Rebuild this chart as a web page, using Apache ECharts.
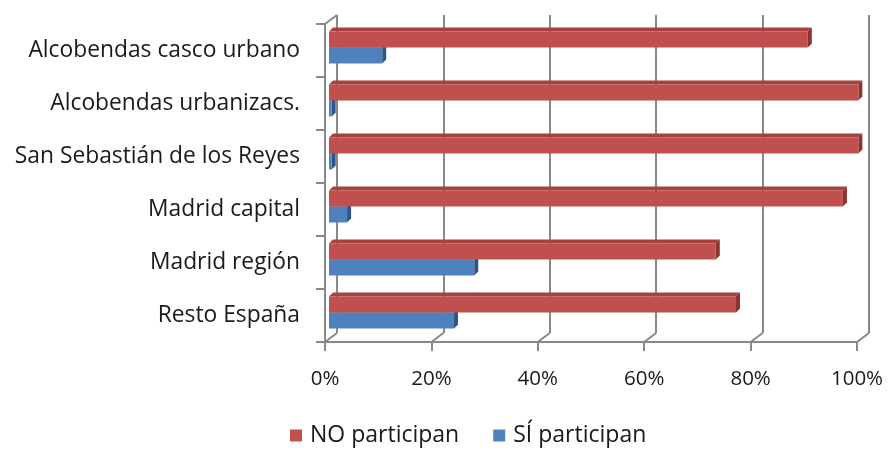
<!DOCTYPE html>
<html>
<head>
<meta charset="utf-8">
<script src="https://cdn.jsdelivr.net/npm/echarts@6/dist/echarts.min.js"></script>
<style>html,body{margin:0;padding:0;background:#fff}#c{width:890px;height:452px}</style>
</head>
<body>
<div id="c"></div>
<script>
const categories = ['Alcobendas casco urbano', 'Alcobendas urbanizacs.', 'San Sebastián de los Reyes', 'Madrid capital', 'Madrid región', 'Resto España'];
const noValues = [90, 99.5, 99.5, 96.6, 72.7, 76.5];
const siValues = [10, 0.5, 0.5, 3.4, 27.3, 23.5];
const seriesNames = ['NO participan', 'SÍ participan'];
const xTicks = [0, 20, 40, 60, 80, 100];

const FONT = 'Open Sans';
const GRID_COLOR = '#888888';
const RED = '#C0504D', RED_SIDE = '#8A3330', RED_TOP = '#A8403D';
const BLUE = '#4F81BD', BLUE_SIDE = '#2E5585', BLUE_TOP = '#3D6BA3';

const chart = echarts.init(document.getElementById('c'), null, {renderer: 'canvas'});

function barRenderer(which, front, side, top) {
  return function (params, api) {
    const cat = api.value(0), val = api.value(1);
    const s = api.coord([0, cat]);
    const e = api.coord([val, cat]);
    const h = 16, d = 4;
    const cy = e[1];
    const y0 = which === 0 ? cy - h : cy;
    const y1 = y0 + h;
    const x0 = s[0], x1 = e[0];
    return {
      type: 'group',
      children: [
        {type: 'polygon', shape: {points: [[x0, y0], [x0 + d, y0 - d], [x1 + d, y0 - d], [x1, y0]]}, style: {fill: top}},
        {type: 'polygon', shape: {points: [[x1, y0], [x1 + d, y0 - d], [x1 + d, y1 - d], [x1, y1]]}, style: {fill: side}},
        {type: 'rect', shape: {x: x0, y: y0, width: Math.max(x1 - x0, 0.5), height: h}, style: {fill: front}}
      ]
    };
  };
}

const option = {
  backgroundColor: '#ffffff',
  animation: false,
  textStyle: {fontFamily: FONT},
  grid: [
    {left: 337, top: 15, width: 532, height: 318},
    {left: 325, top: 24, width: 532, height: 318},
    {left: 329, top: 21, width: 532, height: 318}
  ],
  xAxis: [
    {gridIndex: 0, type: 'value', min: 0, max: 100, interval: 20, axisLine: {show: false}, axisTick: {show: false}, axisLabel: {show: false},
      splitLine: {show: true, showMinLine: true, showMaxLine: true, lineStyle: {color: GRID_COLOR, width: 2}}},
    {gridIndex: 1, type: 'value', min: 0, max: 100, interval: 20,
      axisLine: {show: true, lineStyle: {color: GRID_COLOR, width: 2}},
      axisTick: {show: true, length: 9, lineStyle: {color: GRID_COLOR, width: 2}},
      splitLine: {show: false},
      axisLabel: {formatter: '{value}%', color: '#1a1a1a', fontSize: 20.5, fontFamily: FONT, margin: 27}},
    {gridIndex: 2, type: 'value', min: 0, max: 100, show: false, splitLine: {show: false}}
  ],
  yAxis: [
    {gridIndex: 0, type: 'category', data: categories, inverse: true, show: false},
    {gridIndex: 1, type: 'category', data: categories, inverse: true,
      axisLine: {show: true, lineStyle: {color: GRID_COLOR, width: 2}},
      axisTick: {show: true, length: 9, lineStyle: {color: GRID_COLOR, width: 2}},
      axisLabel: {color: '#1a1a1a', fontSize: 22.8, fontFamily: FONT, margin: 25}},
    {gridIndex: 2, type: 'category', data: categories, inverse: true, show: false}
  ],
  legend: {
    bottom: 0, left: 285,
    icon: 'rect', itemWidth: 12, itemHeight: 12, itemGap: 34,
    data: seriesNames,
    textStyle: {fontSize: 23, fontFamily: FONT, color: '#1a1a1a', padding: [0, 0, 0, 3]}
  },
  series: [
    {name: seriesNames[1], type: 'custom', xAxisIndex: 2, yAxisIndex: 2, z: 3,
      itemStyle: {color: BLUE},
      encode: {x: 1, y: 0},
      data: siValues.map((v, i) => [i, v]),
      renderItem: barRenderer(1, BLUE, BLUE_SIDE, BLUE_TOP)},
    {name: seriesNames[0], type: 'custom', xAxisIndex: 2, yAxisIndex: 2, z: 4,
      itemStyle: {color: RED},
      encode: {x: 1, y: 0},
      data: noValues.map((v, i) => [i, v]),
      renderItem: barRenderer(0, RED, RED_SIDE, RED_TOP)}
  ]
};
chart.setOption(option);

// 3D floor / wall connectors
const backTop = 15, backBottom = 333, frontTop = 24, frontBottom = 342;
const gfx = [];
xTicks.forEach(t => {
  const bx = chart.convertToPixel({xAxisIndex: 0}, t);
  const fx = chart.convertToPixel({xAxisIndex: 1}, t);
  gfx.push({type: 'line', shape: {x1: bx, y1: backBottom, x2: fx, y2: frontBottom}, style: {stroke: GRID_COLOR, lineWidth: 2}, z: 1});
});
const bx0 = chart.convertToPixel({xAxisIndex: 0}, 0);
const fx0 = chart.convertToPixel({xAxisIndex: 1}, 0);
gfx.push({type: 'line', shape: {x1: fx0, y1: frontTop, x2: bx0, y2: backTop}, style: {stroke: GRID_COLOR, lineWidth: 2}, z: 1});
chart.setOption({graphic: gfx});
</script>
</body>
</html>
